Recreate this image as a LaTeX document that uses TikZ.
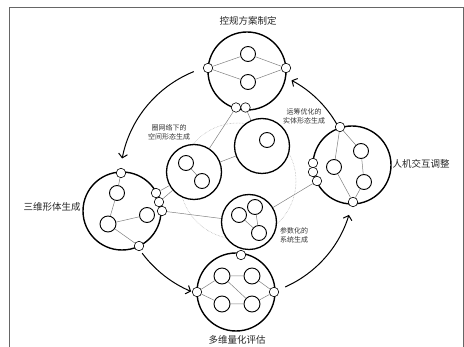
\documentclass[tikz,border=0pt]{standalone}
\usepackage{fontspec}
\newfontfamily\cjk{Noto Sans CJK SC}
\usetikzlibrary{arrows.meta}

\begin{document}
\begin{tikzpicture}[x=1pt,y=-1pt,
  stage/.style={circle, draw=black, line width=1.4pt, fill=white, minimum size=78pt, inner sep=0pt},
  module/.style={circle, draw=black, line width=1.3pt, fill=white, minimum size=55pt, inner sep=0pt},
  unit/.style={circle, draw=black, line width=0.9pt, fill=white, minimum size=15pt, inner sep=0pt},
  bigunit/.style={unit, minimum size=16pt},
  port/.style={circle, draw=black, line width=0.6pt, fill=white, minimum size=9.5pt, inner sep=0pt},
  link/.style={draw=black!50, line width=0.5pt},
  flow/.style={line width=1pt, -{Straight Barb[length=4pt,width=9pt]}},
  title/.style={font=\cjk\fontsize{9.5}{11}\selectfont, text=black!85},
  note/.style={font=\cjk\fontsize{7}{9}\selectfont, align=center, text=black!80}]

\useasboundingbox (0,0) rectangle (464,347);

% frame
\draw[black!60, line width=0.9pt] (9.5,347) -- (9.5,7.5) -- (463.3,7.5) -- (463.3,347);

% central ring
\coordinate (hub) at (238,181);
\draw[black!35, densely dotted, line width=0.5pt] (hub) circle[radius=58];

% four stages
\node[stage] (T) at (247,71) {};
\node[stage] (L) at (122,211) {};
\node[stage] (R) at (352,165) {};
\node[stage] (B) at (236,292) {};

% three generation modules
\node[module] (A) at (194,172) {};
\node[module] (O) at (262,146) {};
\node[module] (C) at (249,222) {};

% units inside the stages
\node[unit] (t1) at (248,54) {};
\node[unit] (t2) at (248,82) {};

\node[unit] (l1) at (117,193) {};
\node[unit] (l2) at (147,215) {};
\node[bigunit] (l3) at (108,224) {};

\node[unit] (r1) at (334,167) {};
\node[unit] (r2) at (361,151) {};
\node[unit] (r3) at (364,182) {};

\node[bigunit] (b1) at (222,276) {};
\node[bigunit] (b2) at (252,276) {};
\node[bigunit] (b3) at (222,304) {};
\node[bigunit] (b4) at (252,304) {};

% units inside the modules
\node[unit] (a1) at (186,163) {};
\node[unit] (a2) at (202,181) {};
\node[unit] (o1) at (267,140) {};
\node[unit] (c1) at (239,215) {};
\node[unit] (c2) at (255,207) {};
\node[unit] (c3) at (259,233) {};

% ports on the stage rims
\node[port] (tl) at (208,68) {};
\node[port] (tr) at (286,68) {};
\node[port] (tb1) at (236,107.5) {};
\node[port] (tb2) at (245.5,107.5) {};

\node[port] (lt) at (121,173) {};
\node[port] (lb) at (139,246) {};
\node[port] (lr1) at (156,193) {};
\node[port] (lr2) at (159,202) {};
\node[port] (lr3) at (162,211) {};

\node[port] (rt) at (340,127) {};
\node[port] (rb) at (353,202) {};
\node[port] (rl1) at (313,163) {};
\node[port] (rl2) at (313,172) {};
\node[port] (rl3) at (317,181) {};

\node[port] (bt) at (241,255) {};
\node[port] (bl) at (197,292) {};
\node[port] (br) at (274,292) {};

% links inside the stages
\draw[link] (tl) -- (t1) -- (tr) -- (t2) -- (tl);
\draw[link] (lt) -- (l1) -- (l3) -- (l2);
\draw[link] (l3) -- (lb);
\draw[link] (rt) -- (r1) -- (rb) -- (r3) -- (r2) -- (rt);
\draw[link] (bl) -- (b1) -- (b2) -- (br) -- (b4) -- (b3) -- (bl);
\draw[link] (b1) -- (b4);

% links inside the modules
\draw[link] (a1) -- (a2);
\draw[link] (c1) -- (c3) -- (c2);

% links between stages and modules
\draw[link] (tb1) -- (A);
\draw[link] (tb2) -- (O);
\draw[link] (A) -- (O);
\draw[link] (lr1) -- (A);
\draw[link] (lr2) -- (A);
\draw[link] (lr3) -- (C);
\draw[link] (rl3) -- (C);

% cycle of the four stages
\draw[flow] ([shift={(248:118)}]hub) arc[start angle=248, end angle=191, radius=118];
\draw[flow] ([shift={(143:120)}]hub) arc[start angle=143, end angle=113, radius=120];
\draw[flow] ([shift={(66:116)}]hub) arc[start angle=66, end angle=17, radius=116];
\draw[flow] ([shift={(330:114)}]hub) arc[start angle=330, end angle=298, radius=114];

% stage titles
\node[title] (tT) at (248,21) {控规方案制定};
\node[title] (tL) at (52,207) {三维形体生成};
\node[title] (tR) at (421,164) {人机交互调整};
\node[title] (tB) at (237,340) {多维量化评估};

% module notes
\node[note] (nA) at (169,132) {圈网络下的\\空间形态生成};
\node[note] (nO) at (304,116) {运筹优化的\\实体形态生成};
\node[note] (nC) at (294,235) {参数化的\\系统生成};
\end{tikzpicture}
\end{document}
